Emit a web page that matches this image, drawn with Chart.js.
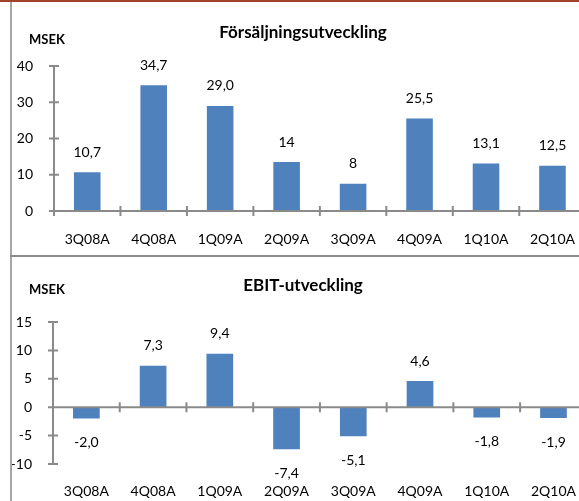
<!DOCTYPE html>
<html>
<head>
<meta charset="utf-8">
<script src="https://cdn.jsdelivr.net/npm/chart.js@4.4.1/dist/chart.umd.min.js"></script>
<style>
    html, body { margin: 0; padding: 0; background: #fff; overflow: hidden; }
    body { width: 579px; height: 501px; position: relative; }
    .frame-top { position: absolute; left: 0; top: 0; width: 579px; height: 2px; background: #a0442a; }
    .frame-left { position: absolute; left: 10px; top: 2px; width: 2px; height: 499px; background: #a6a6a6; }
    .frame-mid { position: absolute; left: 10px; top: 255px; width: 569px; height: 2px; background: #8c8c8c; }
    .box { position: absolute; }
</style>
</head>
<body>
<div class="frame-top"></div>
<div class="frame-left"></div>
<div class="frame-mid"></div>
<div class="box" style="left:12px;top:3px;width:575px;height:252px"><canvas id="salesChart"></canvas></div>
<div class="box" style="left:12px;top:257px;width:575px;height:244px"><canvas id="ebitChart"></canvas></div>
<script>
// Quarters shared by both charts
const quarters = ['3Q08A', '4Q08A', '1Q09A', '2Q09A', '3Q09A', '4Q09A', '1Q10A', '2Q10A'];

// Försäljning (MSEK)
const salesValues = [10.7, 34.7, 29.0, 13.5, 7.5, 25.5, 13.1, 12.5];
const salesLabels = ['10,7', '34,7', '29,0', '14', '8', '25,5', '13,1', '12,5'];

// EBIT (MSEK)
const ebitValues = [-2.0, 7.3, 9.4, -7.4, -5.1, 4.6, -1.8, -1.9];
const ebitLabels = ['-2,0', '7,3', '9,4', '-7,4', '-5,1', '4,6', '-1,8', '-1,9'];

const FONT = 'Lato, "Open Sans", sans-serif';
const AXIS_GRAY = '#8a8a8a';
const BAR_BLUE = '#4f81bd';

// Draws title, unit, axis lines with crossing ticks and the value labels
const excelLook = {
    id: 'excelLook',
    afterDatasetsDraw(chart, args, opts) {
        const ctx = chart.ctx;
        const area = chart.chartArea;
        const x = chart.scales.x;
        const y = chart.scales.y;
        ctx.save();

        // header texts
        ctx.fillStyle = '#000';
        ctx.textAlign = 'center';
        ctx.textBaseline = 'middle';
        ctx.font = 'bold 17px ' + FONT;
        ctx.fillText(opts.title, 291, opts.titleY);
        ctx.textAlign = 'left';
        ctx.font = 'bold 13px ' + FONT;
        ctx.fillText('MSEK', 17, opts.unitY);

        // axes
        ctx.strokeStyle = AXIS_GRAY;
        ctx.lineWidth = 2;
        const zeroY = y.getPixelForValue(0);
        ctx.beginPath();
        ctx.moveTo(area.left, area.top);
        ctx.lineTo(area.left, area.bottom);
        ctx.moveTo(area.left, zeroY);
        ctx.lineTo(area.right, zeroY);
        y.ticks.forEach((t, i) => {
            const py = y.getPixelForTick(i);
            ctx.moveTo(area.left - 5, py);
            ctx.lineTo(area.left + 5, py);
        });
        const half = (x.getPixelForValue(1) - x.getPixelForValue(0)) / 2;
        for (let i = 0; i <= quarters.length; i++) {
            const px = x.getPixelForValue(0) - half + i * half * 2;
            ctx.moveTo(px, zeroY - 5);
            ctx.lineTo(px, zeroY + 5);
        }
        ctx.stroke();

        // value labels
        ctx.font = '14px ' + FONT;
        ctx.textAlign = 'center';
        ctx.fillStyle = '#000';
        const meta = chart.getDatasetMeta(0);
        meta.data.forEach((bar, i) => {
            const v = chart.data.datasets[0].data[i];
            const ly = v >= 0 ? bar.y - 20 : bar.y + 24;
            ctx.fillText(opts.labels[i], bar.x, ly);
        });
        ctx.restore();
    }
};

function makeChart(id, values, labels, cfg) {
    return new Chart(document.getElementById(id), {
        type: 'bar',
        data: {
            labels: quarters,
            datasets: [{
                data: values,
                backgroundColor: BAR_BLUE,
                borderWidth: 0,
                categoryPercentage: 1,
                barPercentage: 0.4
            }]
        },
        options: {
            responsive: true,
            maintainAspectRatio: false,
            animation: false,
            layout: { padding: { top: cfg.top, left: 0, right: 0, bottom: 0 } },
            plugins: {
                legend: { display: false },
                tooltip: { enabled: false },
                excelLook: { title: cfg.title, titleY: cfg.titleY, unitY: cfg.unitY, labels: labels }
            },
            scales: {
                x: {
                    grid: { display: false },
                    border: { display: false },
                    ticks: { color: '#000', font: { family: FONT, size: 14 }, padding: cfg.xPad, maxRotation: 0 },
                    afterFit(scale) { scale.height = cfg.xHeight; }
                },
                y: {
                    min: cfg.min,
                    max: cfg.max,
                    grid: { display: false },
                    border: { display: false },
                    ticks: { stepSize: cfg.step, color: '#000', font: { family: FONT, size: 14 }, padding: 13 },
                    afterFit(scale) { scale.width = cfg.yWidth; }
                }
            }
        },
        plugins: [excelLook]
    });
}

makeChart('salesChart', salesValues, salesLabels, {
    title: 'Försäljningsutveckling', titleY: 30, unitY: 37,
    top: 63, xHeight: 44, xPad: 12, yWidth: 42,
    min: 0, max: 40, step: 10
});

makeChart('ebitChart', ebitValues, ebitLabels, {
    title: 'EBIT-utveckling', titleY: 29, unitY: 33,
    top: 65, xHeight: 37, xPad: 11, yWidth: 41,
    min: -10, max: 15, step: 5
});
</script>
</body>
</html>
